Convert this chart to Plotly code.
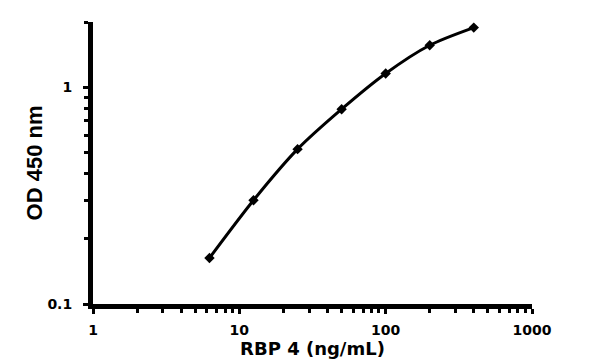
import plotly.graph_objects as go

conc = [6.25, 12.5, 25, 50, 100, 200, 400]
od = [0.163, 0.301, 0.518, 0.792, 1.157, 1.562, 1.884]
x_ticks = [1, 10, 100, 1000]
x_tick_labels = ["1", "10", "100", "1000"]
x_minor = [m * d for d in (1, 10, 100) for m in range(2, 10)]
y_ticks = [0.1, 1]
y_tick_labels = ["0.1", "1"]
y_minor = [m * 0.1 for m in range(2, 10)] + [2]

fig = go.Figure()
fig.add_trace(go.Scatter(
    x=conc, y=od, mode="lines+markers",
    line=dict(color="black", width=3, shape="spline", smoothing=0.8),
    marker=dict(symbol="diamond", size=8, color="black"),
    showlegend=False, cliponaxis=False,
))

wide = "DejaVu Sans, Verdana, sans-serif"
narrow = "Liberation Sans, Arial, sans-serif"
fig.update_layout(
    template="none",
    width=600, height=364,
    margin=dict(l=93, r=68, t=22, b=60, pad=0),
    paper_bgcolor="white", plot_bgcolor="white",
    font=dict(family=narrow, color="black"),
    xaxis=dict(
        type="log", range=[0, 3], automargin=False,
        tickvals=x_ticks, ticktext=[f"<b>{t}</b>" for t in x_tick_labels],
        tickfont=dict(size=14, family=wide), ticks="outside", ticklen=5, tickwidth=3,
        ticklabelstandoff=4, tickcolor="black",
        showline=True, linewidth=5, linecolor="black",
        showgrid=False, zeroline=False,
        minor=dict(tickmode="array", tickvals=x_minor, ticks="outside", ticklen=4,
                   tickwidth=3, tickcolor="black", showgrid=False),
        title=dict(text="<b>RBP 4 (ng/mL)</b>", font=dict(size=18, family=wide), standoff=3),
    ),
    yaxis=dict(
        type="log", range=[-1, 0.30103], automargin=False,
        tickvals=y_ticks, ticktext=[f"<b>{t}</b>" for t in y_tick_labels],
        tickfont=dict(size=14, family=wide), ticks="outside", ticklen=5, tickwidth=3,
        ticklabelstandoff=8, tickcolor="black",
        showline=True, linewidth=5, linecolor="black",
        showgrid=False, zeroline=False,
        minor=dict(tickmode="array", tickvals=y_minor, ticks="outside", ticklen=4,
                   tickwidth=3, tickcolor="black", showgrid=False),
        title=dict(text="<b>OD 450 nm</b>", font=dict(size=22, family=narrow), standoff=0),
    ),
)
fig.write_html("out.html", config={"displayModeBar": False},
               post_script="document.body.style.margin='0';")
